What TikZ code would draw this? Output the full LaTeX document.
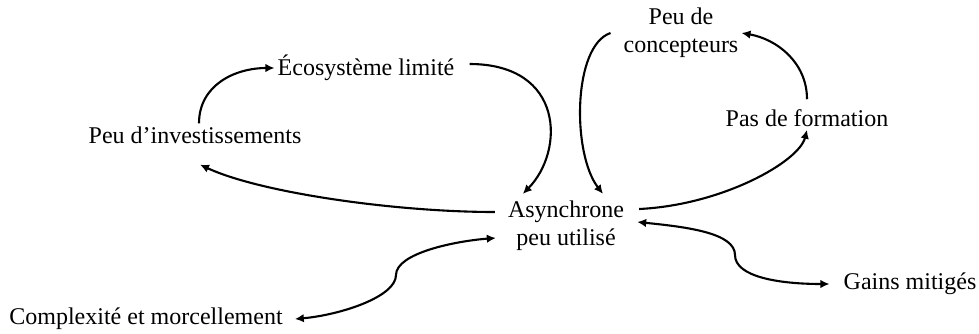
\documentclass[tikz,border=0pt]{standalone}
\usepackage{fontspec}
\setmainfont{Liberation Serif}
\usetikzlibrary{arrows.meta}
\tikzset{
  factor/.style={inner sep=3pt, align=center, font=\fontsize{24}{28}\selectfont},
  link/.style={line width=2.1pt, -{Latex[length=9pt,width=8.5pt]}},
  bilink/.style={line width=2.1pt, {Latex[length=9pt,width=8.5pt]}-{Latex[length=9pt,width=8.5pt]}}
}
\begin{document}
\begin{tikzpicture}[x=1pt,y=-1pt]
\useasboundingbox (0,0) rectangle (979,333);
\node(eco)[factor] at (366,68) {Écosystème limité};
\node(invest)[factor] at (195,135) {Peu d’investissements};
\node(async)[factor] at (566,226) {Asynchrone\\peu utilisé};
\node(concep)[factor] at (681,33) {Peu de\\concepteurs};
\node(form)[factor] at (807,118) {Pas de formation};
\node(gains)[factor] at (910,284) {Gains mitigés};
\node(complex)[factor] at (146,319) {Complexité et morcellement};

\draw[link] ([xshift=4pt]invest.north) .. controls +(0,-38) and +(-40,0) .. (eco.west);
\draw[link] ([shift={(12,-4)}]eco.east) .. controls +(95,0) and +(42,-43) .. ([shift={(18,-4)}]async.north west);
\draw[link] ([shift={(-10,-14)}]async.west) .. controls +(-100,0) and +(60,28) .. ([shift={(5,18)}]invest.south);
\draw[link] ([xshift=-10pt]concep.west) .. controls +(-38,13) and +(-31,-40) .. ([shift={(37,-4)}]async.north);
\draw[link] ([shift={(12,-17)}]async.east) .. controls +(83,-4) and +(-8,32) .. (form.south);
\draw[link] ([yshift=7pt]form.north) .. controls +(0,-37) and +(35,6) .. (concep.east);
\draw[bilink] ([shift={(-9,12)}]async.west) .. controls +(-40,3) and +(0,-22) .. (396,275) .. controls +(0,22) and +(45,-4) .. ([xshift=9pt]complex.east);
\draw[bilink] ([shift={(10,-4)}]async.east) .. controls +(50,5) and +(0,-22) .. (735,255) .. controls +(0,22) and +(-50,0) .. ([xshift=-11pt]gains.west);
\end{tikzpicture}
\end{document}
